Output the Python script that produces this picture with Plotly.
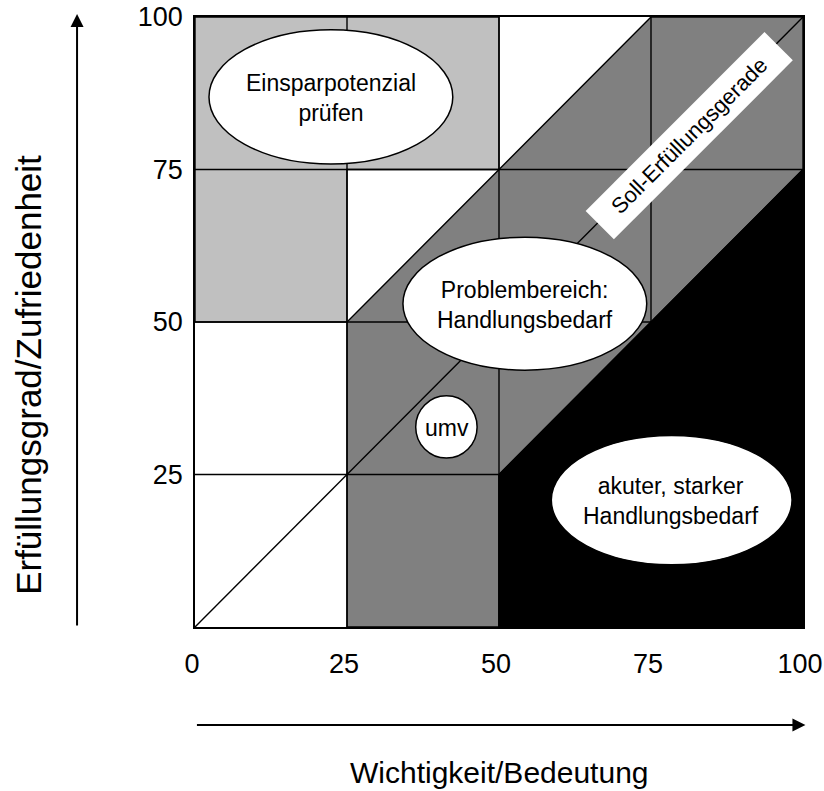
import plotly.graph_objects as go

# ---- data (axis values 0..100) ----
x_tick_vals = [0, 25, 50, 75, 100]
x_tick_text = ["0", "25", "50", "75", "100"]
y_tick_vals = [25, 50, 75, 100]
y_tick_text = ["25", "50", "75", "100"]
grid_vals = [25, 50, 75]

# region polygons (x, y)
light_x = [0, 25, 25, 50, 50, 0, 0]
light_y = [50, 50, 75, 75, 100, 100, 50]
dark_x = [25, 50, 50, 100, 100, 75, 25, 25]
dark_y = [0, 0, 25, 75, 100, 100, 50, 0]
black_x = [50, 100, 100, 50, 50]
black_y = [0, 0, 75, 25, 0]

# target line (Soll-Erfüllungsgerade)
soll_x = [0, 100]
soll_y = [0, 100]

# ellipses: label, x0, x1, y0, y1, text x, text y
ell_labels = ["Einsparpotenzial<br>prüfen", "Problembereich:<br>Handlungsbedarf",
              "umv", "akuter, starker<br>Handlungsbedarf"]
ell_x0 = [2.3, 34.2, 36.3, 58.6]
ell_x1 = [42.4, 74.3, 46.4, 98.2]
ell_y0 = [75.9, 42.1, 27.7, 10.2]
ell_y1 = [97.9, 63.9, 37.9, 31.4]
ell_tx = [22.3, 54.3, 41.4, 78.3]
ell_ty = [86.7, 52.8, 32.6, 20.6]

soll_label = "Soll-Erfüllungsgerade"
soll_pos = (81.3, 80.6)

x_title = "Wichtigkeit/Bedeutung"
y_title = "Erfüllungsgrad/Zufriedenheit"

FONT = "Liberation Sans, Arial, sans-serif"
LW = 1.4

fig = go.Figure()
for xs, ys, col in [(light_x, light_y, "#C0C0C0"), (dark_x, dark_y, "#808080"),
                    (black_x, black_y, "#000000")]:
    fig.add_trace(go.Scatter(x=xs, y=ys, fill="toself", fillcolor=col, mode="lines",
                             line=dict(color="black", width=LW), hoverinfo="skip",
                             showlegend=False))

for g in grid_vals:
    fig.add_trace(go.Scatter(x=[g, g], y=[0, 100], mode="lines",
                             line=dict(color="black", width=LW), hoverinfo="skip",
                             showlegend=False))
    fig.add_trace(go.Scatter(x=[0, 100], y=[g, g], mode="lines",
                             line=dict(color="black", width=LW), hoverinfo="skip",
                             showlegend=False))

fig.add_trace(go.Scatter(x=soll_x, y=soll_y, mode="lines",
                         line=dict(color="black", width=LW), hoverinfo="skip",
                         showlegend=False))

for i, lab in enumerate(ell_labels):
    fig.add_shape(type="circle", xref="x", yref="y",
                  x0=ell_x0[i], x1=ell_x1[i], y0=ell_y0[i], y1=ell_y1[i],
                  fillcolor="white", line=dict(color="black", width=1.5), layer="above")
    fig.add_annotation(x=ell_tx[i], y=ell_ty[i], xref="x", yref="y", text=lab,
                       showarrow=False, font=dict(family=FONT, size=23, color="black"),
                       align="center")

fig.add_annotation(x=soll_pos[0], y=soll_pos[1], xref="x", yref="y", text=soll_label,
                   showarrow=False, textangle=-45, bgcolor="white", width=240, height=27,
                   borderpad=6, font=dict(family=FONT, size=22, color="black"))

# axis arrows
fig.add_annotation(x=-0.194, y=1.005, xref="paper", yref="paper", ax=0, ay=613,
                   axref="pixel", ayref="pixel", showarrow=True, arrowhead=2,
                   arrowsize=1.3, arrowwidth=2, arrowcolor="black", text="")
fig.add_annotation(x=1.004, y=-0.1607, xref="paper", yref="paper", ax=-610, ay=0,
                   axref="pixel", ayref="pixel", showarrow=True, arrowhead=2,
                   arrowsize=1.3, arrowwidth=2, arrowcolor="black", text="")

fig.add_annotation(x=0.5, y=-0.2393, xref="paper", yref="paper", text=x_title,
                   showarrow=False, font=dict(family=FONT, size=30, color="black"),
                   xanchor="center", yanchor="middle")
fig.add_annotation(x=-0.275, y=0.413, xref="paper", yref="paper", text=y_title,
                   showarrow=False, textangle=-90,
                   font=dict(family=FONT, size=35, color="black"),
                   xanchor="center", yanchor="middle")

fig.update_xaxes(range=[0, 100], tickvals=x_tick_vals, ticktext=x_tick_text,
                 showgrid=False, zeroline=False, showline=True, linecolor="black",
                 linewidth=1.5, mirror=True, ticks="", ticklabelstandoff=12,
                 ticklabelshift=-3, automargin=False, ticklabeloverflow="allow",
                 tickfont=dict(family=FONT, size=27, color="black"))
fig.update_yaxes(range=[0, 100], tickvals=y_tick_vals, ticktext=y_tick_text,
                 showgrid=False, zeroline=False, showline=True, linecolor="black",
                 linewidth=1.5, mirror=True, ticks="", ticklabelstandoff=5,
                 automargin=False, ticklabeloverflow="allow",
                 tickfont=dict(family=FONT, size=27, color="black"))

fig.update_layout(width=824, height=791, margin=dict(l=195, r=21, t=17, b=164),
                  plot_bgcolor="white", paper_bgcolor="white", showlegend=False,
                  hovermode=False)

fig.write_html("out.html", config={"displayModeBar": False},
               post_script="document.body.style.margin='0px';document.body.style.padding='0px';")
